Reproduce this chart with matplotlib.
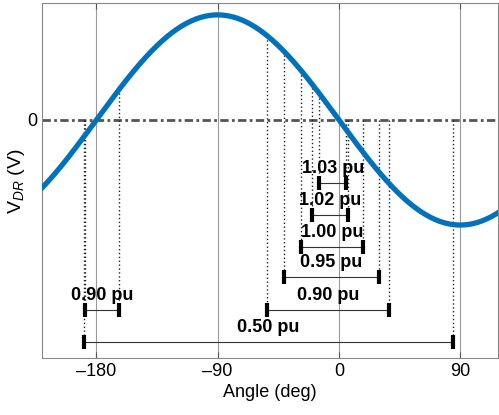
import numpy as np
import matplotlib.pyplot as plt

plt.rcParams['font.family'] = ['Liberation Sans', 'DejaVu Sans']
plt.rcParams['mathtext.fontset'] = 'custom'
plt.rcParams['mathtext.rm'] = 'Liberation Sans'
plt.rcParams['mathtext.it'] = 'Liberation Sans:italic'

# ------------------------ Dados ------------------------
# curva V_DR = -sin(angulo), amplitude normalizada
ang = np.linspace(-220, 118, 400)
vdr = -np.sin(np.radians(ang))

# faixas de operacao (pu)
ratings = ['1.03 pu', '1.02 pu', '1.00 pu', '0.95 pu', '0.90 pu', '0.90 pu', '0.50 pu']
ang_lo = [-14.5, -19.8, -27.8, -41.0, -53.2, -188.7, -189.2]
ang_hi = [5.2, 6.8, 17.5, 29.5, 36.8, -163.1, 84.8]
bar_y = [-0.60, -0.905, -1.21, -1.495, -1.81, -1.81, -2.11]

xticks = [-180, -90, 0, 90]

# ------------------------ Figura ------------------------
fig = plt.figure(figsize=(4.99, 4.15), dpi=100)
ax = fig.add_axes([0.085, 0.137, 0.913, 0.855])

# grade vertical
for xt in xticks:
    ax.axvline(xt, color='#9a9a9a', lw=0.8, zorder=0)

# linha de zero
ax.axhline(0, color='#555555', lw=2.0, ls=(0, (3, 1.2, 1, 1.2)), zorder=1)

# linhas pontilhadas da curva ate as barras
for lo, hi, y in zip(ang_lo, ang_hi, bar_y):
    for a in (lo, hi):
        top = max(-np.sin(np.radians(a)), 0)
        ax.plot([a, a], [top, y], color='#222222', lw=1.0, ls=(0, (1, 1.8)), zorder=2)

# barras com marcadores nas pontas
for lo, hi, y, lab in zip(ang_lo, ang_hi, bar_y, ratings):
    ax.plot([lo, hi], [y, y], color='#333333', lw=0.8, zorder=3)
    ax.plot([lo, hi], [y, y], ls='none', marker='|', ms=10, mew=3, color='black', zorder=4)
    ax.annotate(lab, ((lo + hi) / 2, y), xytext=(0, 10.5), textcoords='offset points',
                ha='center', va='center', fontsize=13, fontweight='bold')

# curva principal
ax.plot(ang, vdr, color='#0072BD', lw=3.8, zorder=5)

ax.set_xlim(-220, 118)
ax.set_ylim(-2.267, 1.11)
ax.set_xticks(xticks)
ax.set_xticklabels([f'{t:g}'.replace('-', '\u2013') for t in xticks])
ax.set_yticks([0])
ax.set_xlabel('Angle (deg)', fontsize=13, labelpad=3)
ax.set_ylabel(r'V$_{\mathit{DR}}$ (V)', fontsize=14, labelpad=0)
ax.tick_params(axis='both', direction='in', length=4, width=0.8, labelsize=13,
               top=True, color='#555555')
for s in ax.spines.values():
    s.set_color('#888888')
    s.set_linewidth(0.8)

plt.savefig('out.png', dpi=100)
